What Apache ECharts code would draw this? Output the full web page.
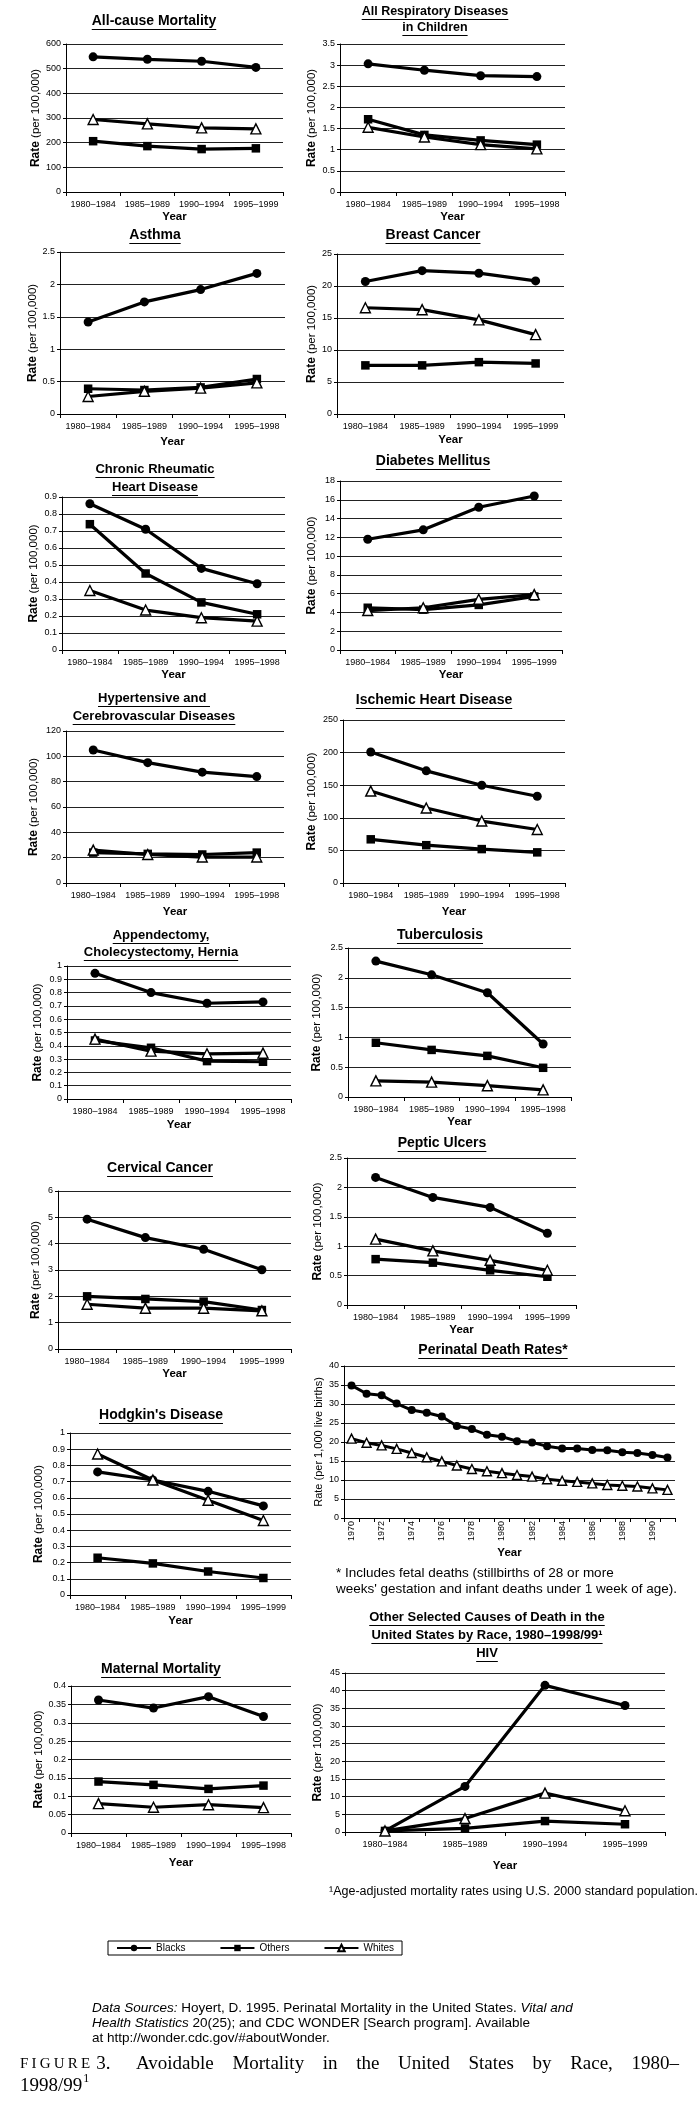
<!DOCTYPE html>
<html><head><meta charset="utf-8">
<script src="https://cdn.jsdelivr.net/npm/echarts@6/dist/echarts.min.js"></script>
<style>html,body{margin:0;padding:0;background:#fff}#c{width:700px;height:2105px}</style>
</head><body><div id="c"></div>
<script>
// ---------- categories ----------
const yrs99 = ['1980–1984','1985–1989','1990–1994','1995–1999'];
const yrs98 = ['1980–1984','1985–1989','1990–1994','1995–1998'];
const perinatalYears = ['1970','1971','1972','1973','1974','1975','1976','1977','1978','1979','1980','1981','1982','1983','1984','1985','1986','1987','1988','1989','1990','1991'];
const seriesNames = ['Blacks','Others','Whites'];

// ---------- data ----------
const allCauseBlacks = [548, 538, 530, 505];
const allCauseOthers = [206, 186, 174, 177];
const allCauseWhites = [294, 276, 260, 256];

const respBlacks = [3.03, 2.88, 2.75, 2.73];
const respOthers = [1.72, 1.35, 1.22, 1.12];
const respWhites = [1.53, 1.30, 1.12, 1.02];

const asthmaBlacks = [1.42, 1.73, 1.92, 2.17];
const asthmaOthers = [0.39, 0.37, 0.41, 0.54];
const asthmaWhites = [0.27, 0.35, 0.40, 0.48];

const breastBlacks = [20.7, 22.4, 22.0, 20.8];
const breastOthers = [7.6, 7.6, 8.1, 7.9];
const breastWhites = [16.6, 16.3, 14.7, 12.4];

const rheumBlacks = [0.86, 0.71, 0.48, 0.39];
const rheumOthers = [0.74, 0.45, 0.28, 0.21];
const rheumWhites = [0.35, 0.235, 0.19, 0.17];

const diabetesBlacks = [11.8, 12.8, 15.2, 16.4];
const diabetesOthers = [4.5, 4.3, 4.8, 5.7];
const diabetesWhites = [4.2, 4.5, 5.4, 5.9];

const hypertBlacks = [105, 95, 87.5, 84];
const hypertOthers = [24, 23, 22.5, 24];
const hypertWhites = [26, 22.5, 20.5, 20.5];

const ischemicBlacks = [201, 172, 150, 133];
const ischemicOthers = [67, 58, 52, 47];
const ischemicWhites = [141, 115, 95, 82];

const appendBlacks = [0.945, 0.80, 0.72, 0.73];
const appendOthers = [0.44, 0.385, 0.285, 0.28];
const appendWhites = [0.45, 0.36, 0.34, 0.345];

const tbBlacks = [2.28, 2.05, 1.75, 0.89];
const tbOthers = [0.91, 0.79, 0.69, 0.49];
const tbWhites = [0.27, 0.25, 0.19, 0.12];

const pepticBlacks = [2.17, 1.83, 1.66, 1.22];
const pepticOthers = [0.78, 0.72, 0.59, 0.48];
const pepticWhites = [1.12, 0.92, 0.76, 0.59];

const cervicalBlacks = [4.93, 4.23, 3.79, 3.01];
const cervicalOthers = [2.0, 1.9, 1.8, 1.48];
const cervicalWhites = [1.7, 1.55, 1.55, 1.45];

const perinatalBlacks = [34.9, 32.7, 32.3, 30.1, 28.4, 27.7, 26.7, 24.2, 23.4, 21.9, 21.4, 20.2, 19.9, 18.9, 18.3, 18.3, 17.9, 17.8, 17.3, 17.1, 16.6, 15.9];
const perinatalWhites = [20.9, 19.8, 19.1, 18.2, 17.1, 16.0, 14.9, 13.8, 12.9, 12.3, 11.8, 11.3, 10.9, 10.2, 9.8, 9.5, 9.1, 8.7, 8.5, 8.3, 7.8, 7.4];

const hodgkinBlacks = [0.76, 0.71, 0.64, 0.55];
const hodgkinOthers = [0.23, 0.195, 0.145, 0.105];
const hodgkinWhites = [0.87, 0.71, 0.585, 0.46];

const maternalBlacks = [0.362, 0.34, 0.371, 0.317];
const maternalOthers = [0.14, 0.131, 0.12, 0.129];
const maternalWhites = [0.08, 0.07, 0.077, 0.069];

const hivBlacks = [0.3, 12.9, 41.5, 35.8];
const hivOthers = [0.3, 1.0, 3.1, 2.2];
const hivWhites = [0.3, 3.8, 11.0, 6.0];

// ---------- layout ----------
const FONT = "'Liberation Sans', Arial, Helvetica, sans-serif";
const SERIF = "'Liberation Serif', 'DejaVu Serif', 'Times New Roman', serif";
const RATE = '{b|Rate} (per 100,000)';

const panels = [
  {title:['All-cause Mortality'], tx:154, ty:[21], ts:14, g:[66,44,217,148], cats:yrs99, data:[allCauseBlacks, allCauseOthers, allCauseWhites], max:600, step:100, yOff:25, nOff:30},
  {title:['All Respiratory Diseases','in Children'], tx:435, ty:[12,28], ts:12.5, g:[340,44,225,148], cats:yrs98, data:[respBlacks, respOthers, respWhites], max:3.5, step:0.5, yOff:25, nOff:28},
  {title:['Asthma'], tx:155, ty:[235], ts:14, g:[60,252,225,162], cats:yrs98, data:[asthmaBlacks, asthmaOthers, asthmaWhites], max:2.5, step:0.5, yOff:28, nOff:25},
  {title:['Breast Cancer'], tx:433, ty:[235], ts:14, g:[337,254,227,160], cats:yrs99, data:[breastBlacks, breastOthers, breastWhites], max:25, step:5, yOff:26, nOff:25},
  {title:['Chronic Rheumatic','Heart Disease'], tx:155, ty:[469,487], ts:13, g:[62,497,223,153], cats:yrs98, data:[rheumBlacks, rheumOthers, rheumWhites], max:0.9, step:0.1, yOff:25, nOff:28},
  {title:['Diabetes Mellitus'], tx:433, ty:[461], ts:14, g:[340,481,222,169], cats:yrs99, data:[diabetesBlacks, diabetesOthers, diabetesWhites], max:18, step:2, yOff:25, nOff:28},
  {title:['Hypertensive and ','Cerebrovascular Diseases'], tx:154, ty:[698,716], ts:13, g:[66,731,218,152], cats:yrs98, data:[hypertBlacks, hypertOthers, hypertWhites], max:120, step:20, yOff:29, nOff:32},
  {title:['Ischemic Heart Disease'], tx:434, ty:[700], ts:14, g:[343,720,222,163], cats:yrs98, data:[ischemicBlacks, ischemicOthers, ischemicWhites], max:250, step:50, yOff:29, nOff:31},
  {title:['Appendectomy,','Cholecystectomy, Hernia'], tx:161, ty:[935,952], ts:13, g:[67,966,224,133], cats:yrs98, data:[appendBlacks, appendOthers, appendWhites], max:1, step:0.1, yOff:26, nOff:29},
  {title:['Tuberculosis'], tx:440, ty:[935], ts:14, g:[348,948,223,149], cats:yrs98, data:[tbBlacks, tbOthers, tbWhites], max:2.5, step:0.5, yOff:25, nOff:31},
  {title:['Peptic Ulcers'], tx:442, ty:[1143], ts:14, g:[347,1158,229,147], cats:yrs99, data:[pepticBlacks, pepticOthers, pepticWhites], max:2.5, step:0.5, yOff:25, nOff:29},
  {title:['Cervical Cancer'], tx:160, ty:[1168], ts:14, g:[58,1191,233,158], cats:yrs99, data:[cervicalBlacks, cervicalOthers, cervicalWhites], max:6, step:1, yOff:25, nOff:22},
  {title:['Perinatal Death Rates*'], tx:493, ty:[1350], ts:14, g:[344,1366,331,152], cats:perinatalYears, data:[perinatalBlacks, null, perinatalWhites], max:40, step:5, yOff:35, nOff:26, perinatal:true},
  {title:["Hodgkin's Disease"], tx:161, ty:[1415], ts:14, g:[70,1433,221,162], cats:yrs99, data:[hodgkinBlacks, hodgkinOthers, hodgkinWhites], max:1, step:0.1, yOff:26, nOff:31},
  {title:['Maternal Mortality'], tx:161, ty:[1669], ts:14, g:[71,1686,220,147], cats:yrs98, data:[maternalBlacks, maternalOthers, maternalWhites], max:0.4, step:0.05, yOff:30, nOff:31},
  {title:['Other Selected Causes of Death in the','United States by Race, 1980–1998/99¹','HIV'], tx:487, ty:[1617,1635,1653], ts:13, g:[345,1673,320,159], cats:yrs99, data:[hivBlacks, hivOthers, hivWhites], max:45, step:5, yOff:34, nOff:27}
];

const mctx = document.createElement('canvas').getContext('2d');
function tw(text, size, weight, family, style){ mctx.font = `${style||'normal'} ${weight||'normal'} ${size}px ${family||FONT}`; return mctx.measureText(text).width; }

const grids=[], xAxes=[], yAxes=[], series=[], graphics=[];

function txt(x, y, text, size, weight, align, family, extra){
  const st = Object.assign({text, fontSize:size, fontWeight:weight||'normal', fontFamily:family||FONT, fill:'#000',
    align:align||'left', textAlign:align||'left', verticalAlign:'middle', textVerticalAlign:'middle'}, extra||{});
  graphics.push({type:'text', x, y, silent:true, style:st});
}
function hline(x1, x2, y){
  graphics.push({type:'line', silent:true, shape:{x1, y1:y, x2, y2:y}, style:{stroke:'#000', lineWidth:1}});
}

panels.forEach((p, i) => {
  p.title.forEach((t, k) => {
    txt(p.tx, p.ty[k], t, p.ts, 'bold', 'center');
    const w = tw(t, p.ts, 'bold');
    hline(p.tx - w/2, p.tx + w/2, Math.round(p.ty[k] + p.ts*0.5 + 1) + 0.5);
  });
  grids.push({left:p.g[0], top:p.g[1], width:p.g[2], height:p.g[3], containLabel:false});
  xAxes.push({
    type:'category', gridIndex:i, data:p.cats, boundaryGap:true,
    name:'Year', nameLocation:'middle', nameGap:p.yOff - 6,
    nameTextStyle:{fontFamily:FONT, fontWeight:'bold', fontSize:11.5, color:'#000'},
    axisLine:{show:true, lineStyle:{color:'#000', width:1}},
    axisTick:{show:true, interval:0, length:4, lineStyle:{color:'#000'}},
    axisLabel:p.perinatal ? {interval:1, rotate:90, fontSize:9, fontFamily:FONT, color:'#000', margin:3}
                          : {interval:0, fontSize:9, fontFamily:FONT, color:'#000', margin:8},
    splitLine:{show:false}
  });
  yAxes.push({
    type:'value', gridIndex:i, min:0, max:p.max, interval:p.step,
    name:p.perinatal ? 'Rate (per 1,000 live births)' : RATE,
    nameLocation:'middle', nameGap:p.nOff - 6,
    nameTextStyle:{fontFamily:FONT, fontSize:p.perinatal ? 11 : 11.5, color:'#000',
      rich:{b:{fontWeight:'bold', fontSize:12, fontFamily:FONT, color:'#000'}}},
    axisLine:{show:true, lineStyle:{color:'#000', width:1}},
    axisTick:{show:true, length:3, lineStyle:{color:'#000'}},
    axisLabel:{fontSize:9, fontFamily:FONT, color:'#000', margin:5},
    splitLine:{show:true, lineStyle:{color:'#222', width:1}}
  });
  p.data.forEach((d, k) => {
    if (!d) return;
    const name = seriesNames[k];
    const s = {
      type:'line', name, xAxisIndex:i, yAxisIndex:i, data:d, silent:true, animation:false,
      showSymbol:true, showAllSymbol:true, z:3 + k,
      lineStyle:{color:'#000', width:p.perinatal ? 3 : 3.2}
    };
    const big = p.perinatal ? 8 : 9;
    if (name === 'Blacks') { s.symbol = 'circle'; s.symbolSize = big; s.itemStyle = {color:'#000'}; }
    else if (name === 'Others') { s.symbol = 'rect'; s.symbolSize = big - 0.5; s.itemStyle = {color:'#000'}; }
    else { s.symbol = 'triangle'; s.symbolSize = big + 1; s.itemStyle = {color:'#fff', borderColor:'#000', borderWidth:1.4}; }
    series.push(s);
  });
});

// perinatal footnote
txt(336, 1573, '* Includes fetal deaths (stillbirths of 28 or more', 13.5, 'normal', 'left');
txt(336, 1589, "weeks' gestation and infant deaths under 1 week of age).", 13.5, 'normal', 'left');
// age-adjusted footnote
txt(329, 1892, '¹Age-adjusted mortality rates using U.S. 2000 standard population.', 12.5, 'normal', 'left');

// data sources
const DS = 13.5;
const dsRich = {i:{fontStyle:'italic', fontSize:DS, fontFamily:FONT, fill:'#000', color:'#000'}};
txt(92, 2008, '{i|Data Sources:} Hoyert, D. 1995. Perinatal Mortality in the United States. {i|Vital and}', DS, 'normal', 'left', FONT, {rich:dsRich});
txt(92, 2023, '{i|Health Statistics} 20(25); and CDC WONDER [Search program]. Available', DS, 'normal', 'left', FONT, {rich:dsRich});
txt(92, 2038, 'at http://wonder.cdc.gov/#aboutWonder.', DS, 'normal', 'left', FONT);

// figure caption (justified first line)
const CS = 19;
let fx = 20;
'FIGURE'.split('').forEach(ch => { txt(fx, 2064, ch, 15, 'normal', 'left', SERIF); fx += tw(ch, 15, 'normal', SERIF) + 3.2; });
txt(fx + 3, 2064, '3.', CS, 'normal', 'left', SERIF);
const capWords = ['Avoidable','Mortality','in','the','United','States','by','Race,','1980–'];
const capStart = 136, capEnd = 679;
const wordW = capWords.map(w => tw(w, CS, 'normal', SERIF));
const gap = (capEnd - capStart - wordW.reduce((a,b)=>a+b,0)) / (capWords.length - 1);
let cx = capStart;
capWords.forEach((w, k) => { txt(cx, 2064, w, CS, 'normal', 'left', SERIF); cx += wordW[k] + gap; });
txt(20, 2086, '1998/99', CS, 'normal', 'left', SERIF);
txt(20 + tw('1998/99', CS, 'normal', SERIF) + 1, 2079, '1', 12, 'normal', 'left', SERIF);

const chart = echarts.init(document.getElementById('c'), null, {renderer:'canvas', width:700, height:2105});
chart.setOption({
  animation:false,
  backgroundColor:'#fff',
  grid:grids, xAxis:xAxes, yAxis:yAxes, series,
  legend:{
    data:seriesNames, left:108, top:1941, orient:'horizontal', selectedMode:false,
    itemWidth:34, itemHeight:8, itemGap:34, padding:[2,8],
    borderColor:'#000', borderWidth:1,
    textStyle:{fontSize:10, fontFamily:FONT, color:'#000'}
  },
  graphic:graphics
});
</script></body></html>
